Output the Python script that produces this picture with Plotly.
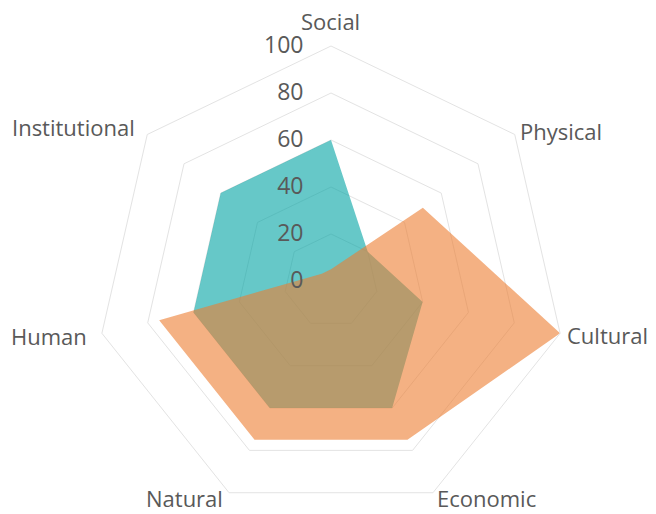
import math
import plotly.graph_objects as go

categories = ["Social", "Physical", "Cultural", "Economic", "Natural", "Human", "Institutional"]
series_a = [60, 20, 40, 60, 60, 60, 60]
series_b = [5, 50, 100, 75, 75, 75, 5]
radial_ticks = [0, 20, 40, 60, 80, 100]

W, H = 656, 514
# polar centre and outer radius in figure pixels, used to place the category labels
cx, cy, R = 322, 273, 233

fig = go.Figure()

fig.add_trace(go.Scatterpolar(
    r=series_a + series_a[:1], theta=categories + categories[:1],
    mode="lines", fill="toself",
    fillcolor="rgba(0,163,163,0.6)", line=dict(width=0),
    name="Series 1"
))

fig.add_trace(go.Scatterpolar(
    r=series_b + series_b[:1], theta=categories + categories[:1],
    mode="lines", fill="toself",
    fillcolor="rgba(237,125,49,0.6)", line=dict(width=0),
    name="Series 2"
))

# category labels placed just outside each vertex (Excel style)
for i, cat in enumerate(categories):
    a = 2 * math.pi * i / len(categories)
    s, c = math.sin(a), math.cos(a)
    d = 14 if s < -0.6 else 8
    x = cx + (R + d) * s
    y = cy - (R + d) * c
    if s > 0.1:
        xa, ya = "left", "middle"
    elif s < -0.1:
        xa, ya = "right", "middle"
    else:
        xa, ya = "center", "bottom"
        y = cy - R - 10
    fig.add_annotation(
        x=x / W, y=1 - y / H, xref="paper", yref="paper",
        text=cat, showarrow=False, xanchor=xa, yanchor=ya,
        font=dict(size=22, color="#595959"),
    )

fig.update_layout(
    width=W, height=H,
    margin=dict(l=0, r=0, t=0, b=0),
    paper_bgcolor="white",
    showlegend=False,
    font=dict(family="Open Sans", color="#595959"),
    polar=dict(
        domain=dict(x=[88 / W, 558 / W], y=[6 / H, 476 / H]),
        bgcolor="white",
        gridshape="linear",
        radialaxis=dict(
            range=[0, 100], tickvals=radial_ticks,
            angle=90, tickangle=90, side="counterclockwise",
            showline=False,
            ticks="outside", ticklen=19, tickcolor="rgba(0,0,0,0)",
            gridcolor="#e3e3e3", gridwidth=1,
            tickfont=dict(size=23, color="#595959"),
        ),
        angularaxis=dict(
            direction="clockwise", rotation=90,
            showgrid=False, showticklabels=False, ticks="",
            linecolor="#e3e3e3", linewidth=1,
        ),
    ),
)

fig.write_html("out.html")
